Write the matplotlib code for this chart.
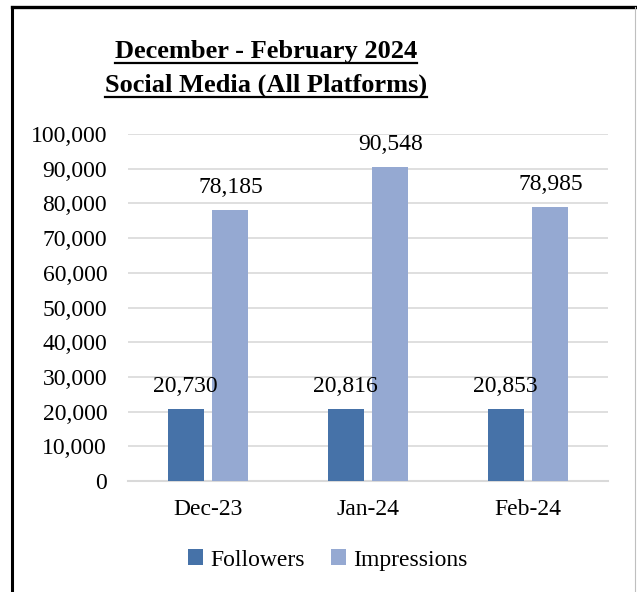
import matplotlib
matplotlib.use("Agg")
import matplotlib.pyplot as plt
from matplotlib.lines import Line2D
import numpy as np

plt.rcParams['font.family'] = ['Liberation Serif', 'DejaVu Serif']

months = ["Dec-23", "Jan-24", "Feb-24"]
followers = [20730, 20816, 20853]
impressions = [78185, 90548, 78985]
series_names = ["Followers", "Impressions"]
title_lines = ["December - February 2024", "Social Media (All Platforms)"]

c_fol = "#4672A8"
c_imp = "#95A9D2"
grid_c = "#D9D9D9"

W, H = 637, 592
fig = plt.figure(figsize=(W / 100, H / 100), dpi=100)
fig.patch.set_facecolor("white")

# axes box in pixels: x 128..608, y 134..481
ax = fig.add_axes([128 / W, (H - 481) / H, (608 - 128) / W, (481 - 134) / H])

x = np.arange(len(months))
bw = 0.225
off = 0.14
b1 = ax.bar(x - off, followers, bw, color=c_fol, zorder=3)
b2 = ax.bar(x + off, impressions, bw, color=c_imp, zorder=3)

for bars, vals in ((b1, followers), (b2, impressions)):
    for r, v in zip(bars, vals):
        ax.annotate(f"{v:,}", (r.get_x() + r.get_width() / 2, v),
                    xytext=(0, 12), textcoords="offset points",
                    ha="center", va="baseline", fontsize=17, zorder=4)

ax.set_xlim(-0.5, 2.5)
ax.set_ylim(0, 100000)
ax.set_yticks(np.arange(0, 100001, 10000))
ax.set_yticklabels([f"{int(t):,}" for t in ax.get_yticks()])
ax.set_xticks(x)
ax.set_xticklabels(months)
ax.tick_params(axis="y", length=0, pad=15, labelsize=17)
ax.tick_params(axis="x", length=0, pad=13, labelsize=17)
ax.grid(axis="y", color=grid_c, lw=1.2, zorder=0)
for s in ("top", "right", "left"):
    ax.spines[s].set_visible(False)
ax.spines["bottom"].set_color(grid_c)
ax.spines["bottom"].set_linewidth(1.5)

leg = fig.legend([b1, b2], series_names, loc="center", bbox_to_anchor=(328 / W, (H - 560) / H),
                 ncol=2, frameon=False, fontsize=17, handlelength=0.65, handleheight=0.65,
                 handletextpad=0.3, columnspacing=1.1)

# title, underlined by hand
fig.canvas.draw()
rend = fig.canvas.get_renderer()
for line, yb in zip(title_lines, (58, 92)):
    t = fig.text(266 / W, (H - yb) / H, line, ha="center", va="baseline",
                 fontsize=19, fontweight="bold")
    bb = t.get_window_extent(renderer=rend)
    uy = (H - (yb + 5)) / H
    fig.add_artist(Line2D([bb.x0 / W, bb.x1 / W], [uy, uy], color="black", lw=1.6))

# outer frame
fig.add_artist(Line2D([12 / W, 12 / W], [0, (H - 7) / H], color="black", lw=2.2))
fig.add_artist(Line2D([12 / W, 635 / W], [(H - 7) / H, (H - 7) / H], color="black", lw=2.4))
fig.add_artist(Line2D([635 / W, 635 / W], [0, (H - 7) / H], color="#BFBFBF", lw=0.8))

fig.savefig("out.png", dpi=100)
